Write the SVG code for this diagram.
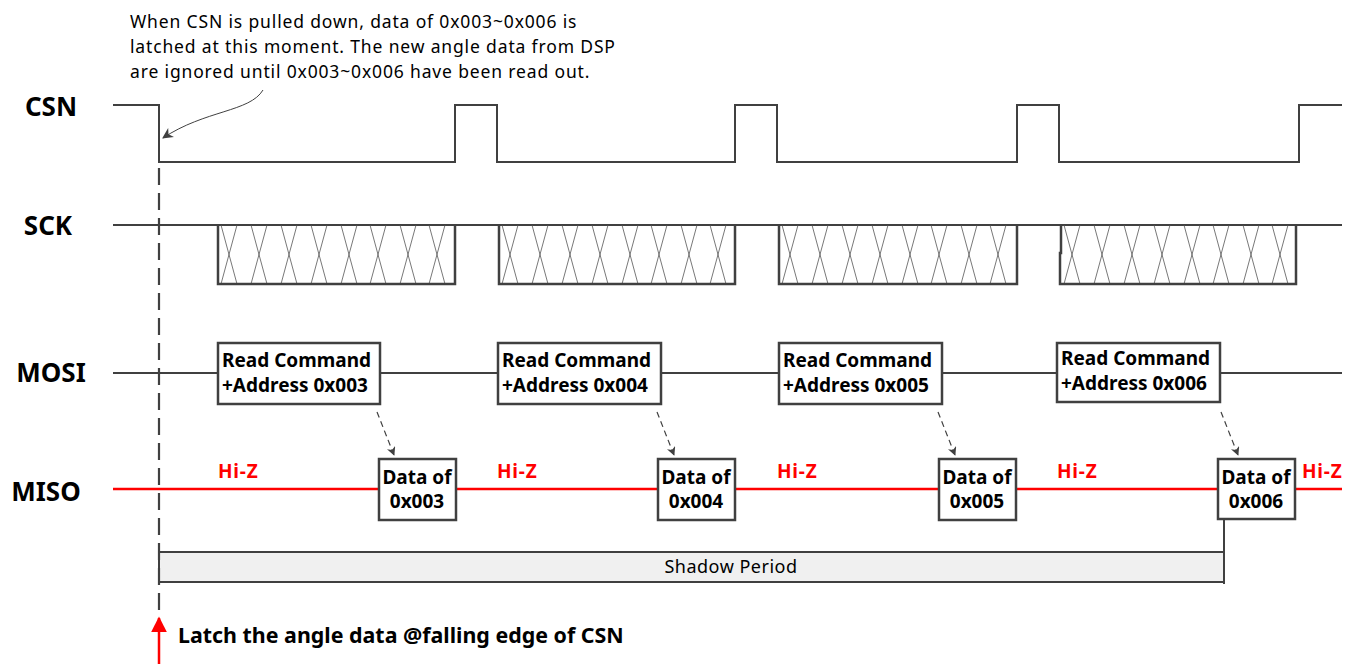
<svg xmlns="http://www.w3.org/2000/svg" width="1346" height="664" viewBox="0 0 1346 664">
  <style>
    .wave { fill: none; stroke: #404040; stroke-width: 2; }
    .frame { fill: none; stroke: #404040; stroke-width: 2.5; }
    .hatch { stroke: #555555; stroke-width: 0.8; }
    .box { fill: #ffffff; stroke: #404040; stroke-width: 2.5; }
    .sig { font-family: "Noto Sans", "Open Sans", sans-serif; font-weight: bold; font-size: 26px; fill: #000000; text-anchor: middle; }
    .lbl { font-family: "Noto Sans", "Open Sans", sans-serif; font-weight: bold; font-size: 19px; fill: #000000; }
    .latch { font-family: "Noto Sans", "Open Sans", sans-serif; font-weight: bold; font-size: 21.4px; fill: #000000; }
    .hiz { font-family: "Noto Sans", "Open Sans", sans-serif; font-weight: bold; font-size: 19px; letter-spacing: 0.8px; fill: #ff0000; }
    .note { font-family: "Noto Sans", "Open Sans", sans-serif; font-size: 17.5px; letter-spacing: 0.85px; fill: #000000; }
    .miso { fill: none; stroke: #ff0000; stroke-width: 2.5; }
    .dep { fill: none; stroke: #404040; stroke-width: 1.2; stroke-dasharray: 6 4; }
  </style>
  <defs>
    <marker id="dashHead" viewBox="0 0 10 10" refX="9" refY="5" markerWidth="9" markerHeight="9" orient="auto" markerUnits="userSpaceOnUse">
      <path d="M0,0 L10,5 L0,10 L3,5 Z" fill="#404040"/>
    </marker>
    <marker id="noteHead" viewBox="0 0 10 10" refX="9" refY="5" markerWidth="11" markerHeight="11" orient="auto" markerUnits="userSpaceOnUse">
      <path d="M0,0 L10,5 L0,10 L3,5 Z" fill="#404040"/>
    </marker>
    <marker id="redHead" viewBox="0 0 10 10" refX="9" refY="5" markerWidth="16" markerHeight="16" orient="auto" markerUnits="userSpaceOnUse">
      <path d="M0,0 L10,5 L0,10 Z" fill="#ff0000"/>
    </marker>
    <!-- one clock burst: 8 crossed transitions at 30 px pitch -->
    <g id="burst">
      <path class="hatch" d="M3,0 L19,59 M19,0 L3,59 M33,0 L49,59 M49,0 L33,59 M63,0 L79,59 M79,0 L63,59 M93,0 L109,59 M109,0 L93,59 M123,0 L139,59 M139,0 L123,59 M152,0 L168,59 M168,0 L152,59 M182,0 L198,59 M198,0 L182,59 M211,0 L227,59 M227,0 L211,59"/>
    </g>
  </defs>

  <!-- signal names -->
  <g id="names">
    <text class="sig" x="51" y="116">CSN</text>
    <text class="sig" x="48" y="235">SCK</text>
    <text class="sig" x="51" y="382">MOSI</text>
    <text class="sig" x="46" y="501">MISO</text>
  </g>

  <!-- annotation -->
  <g id="note">
    <text class="note" x="130" y="28">When CSN is pulled down, data of 0x003~0x006 is</text>
    <text class="note" x="130" y="53">latched at this moment. The new angle data from DSP</text>
    <text class="note" x="130" y="78">are ignored until 0x003~0x006 have been read out.</text>
  </g>

  <!-- CSN waveform -->
  <g id="csn">
    <path class="wave" d="M113,105 H159 V162 H455 V105 H497 V162 H735 V105 H777 V162 H1017 V105 H1059 V162 H1299 V105 H1342"/>
  </g>

  <!-- SCK waveform -->
  <g id="sck">
    <path class="wave" d="M113,225 H1342"/>
    <use href="#burst" x="218" y="225"/>
    <use href="#burst" x="499" y="225"/>
    <use href="#burst" x="779" y="225"/>
    <use href="#burst" x="1061" y="225"/>
    <path class="frame" d="M218,225 V284 H455 V225"/>
    <path class="frame" d="M499,225 V284 H735 V225"/>
    <path class="frame" d="M779,225 V284 H1017 V225"/>
    <path class="frame" d="M1061,225 V253 H1060 V284 H1296 V225"/>
  </g>

  <!-- MOSI line -->
  <g id="mosi">
    <path class="wave" d="M113,373 H1342"/>
  </g>

  <!-- MISO line -->
  <g id="miso">
    <path class="miso" d="M113,489 H1342"/>
  </g>

  <!-- command boxes -->
  <g id="cmd1">
    <rect class="box" x="218" y="343" width="162" height="61"/>
    <text class="lbl" x="222" y="367">Read Command</text>
    <text class="lbl" x="222" y="392">+Address 0x003</text>
  </g>
  <g id="cmd2">
    <rect class="box" x="498" y="343" width="163" height="61"/>
    <text class="lbl" x="502" y="367">Read Command</text>
    <text class="lbl" x="502" y="392">+Address 0x004</text>
  </g>
  <g id="cmd3">
    <rect class="box" x="779" y="343" width="163" height="61"/>
    <text class="lbl" x="783" y="367">Read Command</text>
    <text class="lbl" x="783" y="392">+Address 0x005</text>
  </g>
  <g id="cmd4">
    <rect class="box" x="1057" y="343" width="163" height="59"/>
    <text class="lbl" x="1061" y="365">Read Command</text>
    <text class="lbl" x="1061" y="390">+Address 0x006</text>
  </g>

  <!-- data boxes -->
  <g id="data1">
    <rect class="box" x="379" y="459" width="77" height="61"/>
    <text class="lbl" x="417" y="484" text-anchor="middle">Data of</text>
    <text class="lbl" x="417" y="508" text-anchor="middle">0x003</text>
  </g>
  <g id="data2">
    <rect class="box" x="658" y="459" width="77" height="61"/>
    <text class="lbl" x="696" y="484" text-anchor="middle">Data of</text>
    <text class="lbl" x="696" y="508" text-anchor="middle">0x004</text>
  </g>
  <g id="data3">
    <rect class="box" x="939" y="459" width="77" height="61"/>
    <text class="lbl" x="977" y="484" text-anchor="middle">Data of</text>
    <text class="lbl" x="977" y="508" text-anchor="middle">0x005</text>
  </g>
  <g id="data4">
    <rect class="box" x="1218" y="459" width="77" height="60"/>
    <text class="lbl" x="1256" y="484" text-anchor="middle">Data of</text>
    <text class="lbl" x="1256" y="508" text-anchor="middle">0x006</text>
  </g>

  <!-- Hi-Z labels -->
  <g id="hiz">
    <text class="hiz" x="218" y="478">Hi-Z</text>
    <text class="hiz" x="497" y="478">Hi-Z</text>
    <text class="hiz" x="777" y="478">Hi-Z</text>
    <text class="hiz" x="1057" y="478">Hi-Z</text>
    <text class="hiz" x="1302" y="478">Hi-Z</text>
  </g>

  <!-- shadow period bar -->
  <g id="shadow">
    <rect x="159" y="552" width="1065" height="30" fill="#f0f0f0" stroke="#404040" stroke-width="2"/>
    <path class="wave" d="M1224,519 V584"/>
    <text x="731" y="573" text-anchor="middle" font-family="Noto Sans, Open Sans, sans-serif" font-size="18" letter-spacing="0.5" fill="#000000">Shadow Period</text>
  </g>

  <!-- latch marker -->
  <g id="latch">
    <text class="latch" x="178" y="643">Latch the angle data @falling edge of CSN</text>
  </g>

  <!-- connectors -->
  <g id="connectors">
    <path d="M159,164 V610" fill="none" stroke="#404040" stroke-width="2.2" stroke-dasharray="17 8" stroke-dashoffset="-4"/>
    <path d="M263,90 C250,112 205,110 163,138" fill="none" stroke="#404040" stroke-width="1" marker-end="url(#noteHead)"/>
    <path class="dep" d="M377,412 L394,455" marker-end="url(#dashHead)"/>
    <path class="dep" d="M657,412 L674,455" marker-end="url(#dashHead)"/>
    <path class="dep" d="M938,412 L955,455" marker-end="url(#dashHead)"/>
    <path class="dep" d="M1221,412 L1238,455" marker-end="url(#dashHead)"/>
    <path d="M159,664 V618" fill="none" stroke="#ff0000" stroke-width="2.5" marker-end="url(#redHead)"/>
  </g>
</svg>
